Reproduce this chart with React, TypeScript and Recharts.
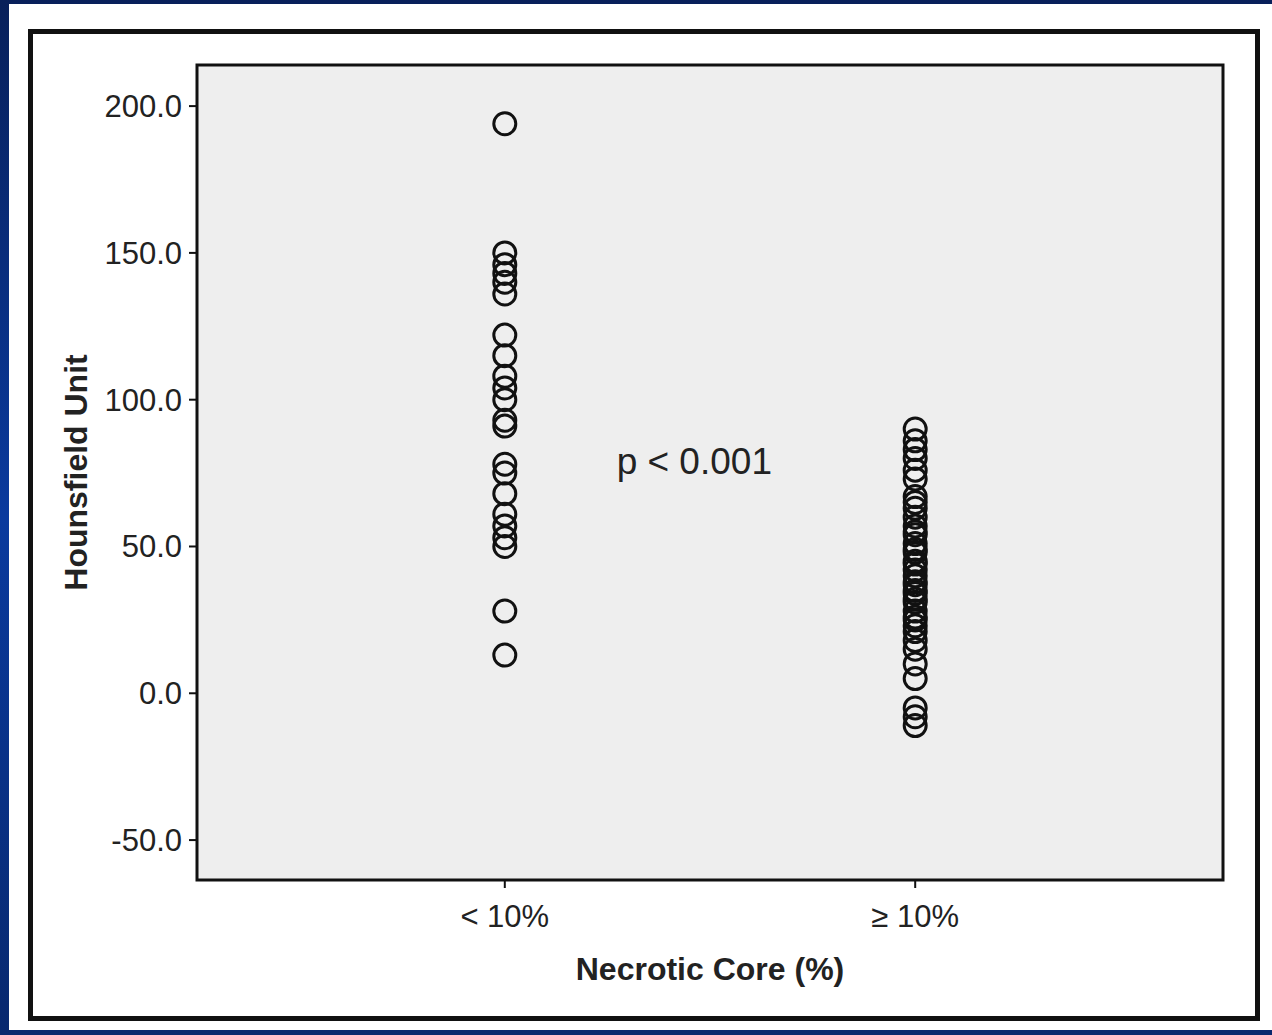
import {
  ReferenceArea,
  ReferenceDot,
  Scatter,
  ScatterChart,
  XAxis,
  YAxis,
} from "recharts";

// Hounsfield units per plaque
const lowNecrotic = [
  194, 150, 146, 143, 140, 136, 122, 115, 108, 104, 100, 93, 91, 78, 75, 68,
  61, 57, 53, 50, 28, 13,
];
const highNecrotic = [
  90, 86, 83, 80, 76, 73, 67, 65, 63, 60, 57, 55, 54, 51, 49, 48, 45, 44, 42,
  40, 38, 37, 35, 34, 32, 31, 28, 26, 25, 23, 21, 18, 15, 10, 5, -5, -8, -11,
];
const categories = ["< 10%", "\u2265 10%"];
const catPos = [3, 7];
const yTicks = [-50, 0, 50, 100, 150, 200];

const C = {
  ink: "#111111",
  text: "#222222",
  plot: "#eeeeee",
};
const FONT = "'Liberation Sans', Arial, Helvetica, sans-serif";
const Y_DOMAIN: [number, number] = [-63.6, 214];

const lowRows = lowNecrotic.map((v) => ({ x: catPos[0], y: v }));
const highRows = highNecrotic.map((v) => ({ x: catPos[1], y: v }));

function Ring(props: any) {
  const { cx, cy } = props;
  if (cx == null || cy == null) return null;
  return <circle cx={cx} cy={cy} r={11} fill="none" stroke={C.ink} strokeWidth={3} />;
}

function YTitle(props: any) {
  const vb = props.viewBox || {};
  const x = (vb.x ?? 0) + 19;
  const y = (vb.y ?? 0) + (vb.height ?? 0) / 2;
  return (
    <text
      x={x}
      y={y}
      transform={`rotate(-90, ${x}, ${y})`}
      textAnchor="middle"
      dominantBaseline="central"
      fontFamily={FONT}
      fontWeight="bold"
      fontSize={32}
      fill={C.text}
    >
      Hounsfield Unit
    </text>
  );
}

export default function App() {
  return (
    <div
      style={{
        position: "absolute",
        left: 0,
        top: 0,
        width: 1272,
        height: 1035,
        background: "linear-gradient(180deg, #08205a 0%, #0a3a9e 50%, #08286e 100%)",
        overflow: "hidden",
      }}
    >
      <div
        style={{
          position: "absolute",
          left: 9,
          top: 4,
          width: 1263,
          height: 1026,
          background: "#ffffff",
        }}
      />
      <div
        style={{
          position: "absolute",
          left: 28,
          top: 29,
          width: 1232,
          height: 992,
          boxSizing: "border-box",
          border: `5px solid ${C.ink}`,
        }}
      />
      <div style={{ position: "absolute", left: 0, top: 0 }}>
        <ScatterChart
          width={1272}
          height={1035}
          margin={{ left: 57, top: 65, right: 49, bottom: 50 }}
          style={{ fontFamily: FONT }}
        >
          <XAxis
            type="number"
            dataKey="x"
            domain={[0, 10]}
            ticks={catPos}
            tickFormatter={(v: number) => categories[catPos.indexOf(v)] ?? ""}
            axisLine={false}
            tickSize={8}
            tickMargin={17}
            tickLine={{ stroke: C.ink, strokeWidth: 2 }}
            tick={{ fill: C.text, fontSize: 31, fontFamily: FONT }}
            height={105}
            label={{
              value: "Necrotic Core (%)",
              position: "insideBottom",
              offset: 5,
              fontSize: 32,
              fontWeight: "bold",
              fill: C.text,
              fontFamily: FONT,
            }}
          />
          <YAxis
            type="number"
            dataKey="y"
            domain={Y_DOMAIN}
            ticks={yTicks}
            allowDataOverflow
            tickFormatter={(v: number) => v.toFixed(1)}
            axisLine={false}
            tickSize={8}
            tickMargin={7}
            tickLine={{ stroke: C.ink, strokeWidth: 2 }}
            tick={{ fill: C.text, fontSize: 31, fontFamily: FONT }}
            width={140}
            label={<YTitle />}
          />
          <ReferenceArea
            x1={0}
            x2={10}
            y1={Y_DOMAIN[0]}
            y2={Y_DOMAIN[1]}
            fill={C.plot}
            fillOpacity={1}
            stroke={C.ink}
            strokeWidth={3}
          />
          <ReferenceDot
            x={4.09}
            y={79}
            r={0}
            stroke="none"
            fill="none"
            label={{
              value: "p < 0.001",
              position: "right",
              offset: 0,
              fontSize: 37,
              fill: C.text,
              fontFamily: FONT,
            }}
          />
          <Scatter data={lowRows} shape={<Ring />} isAnimationActive={false} />
          <Scatter data={highRows} shape={<Ring />} isAnimationActive={false} />
        </ScatterChart>
      </div>
    </div>
  );
}
